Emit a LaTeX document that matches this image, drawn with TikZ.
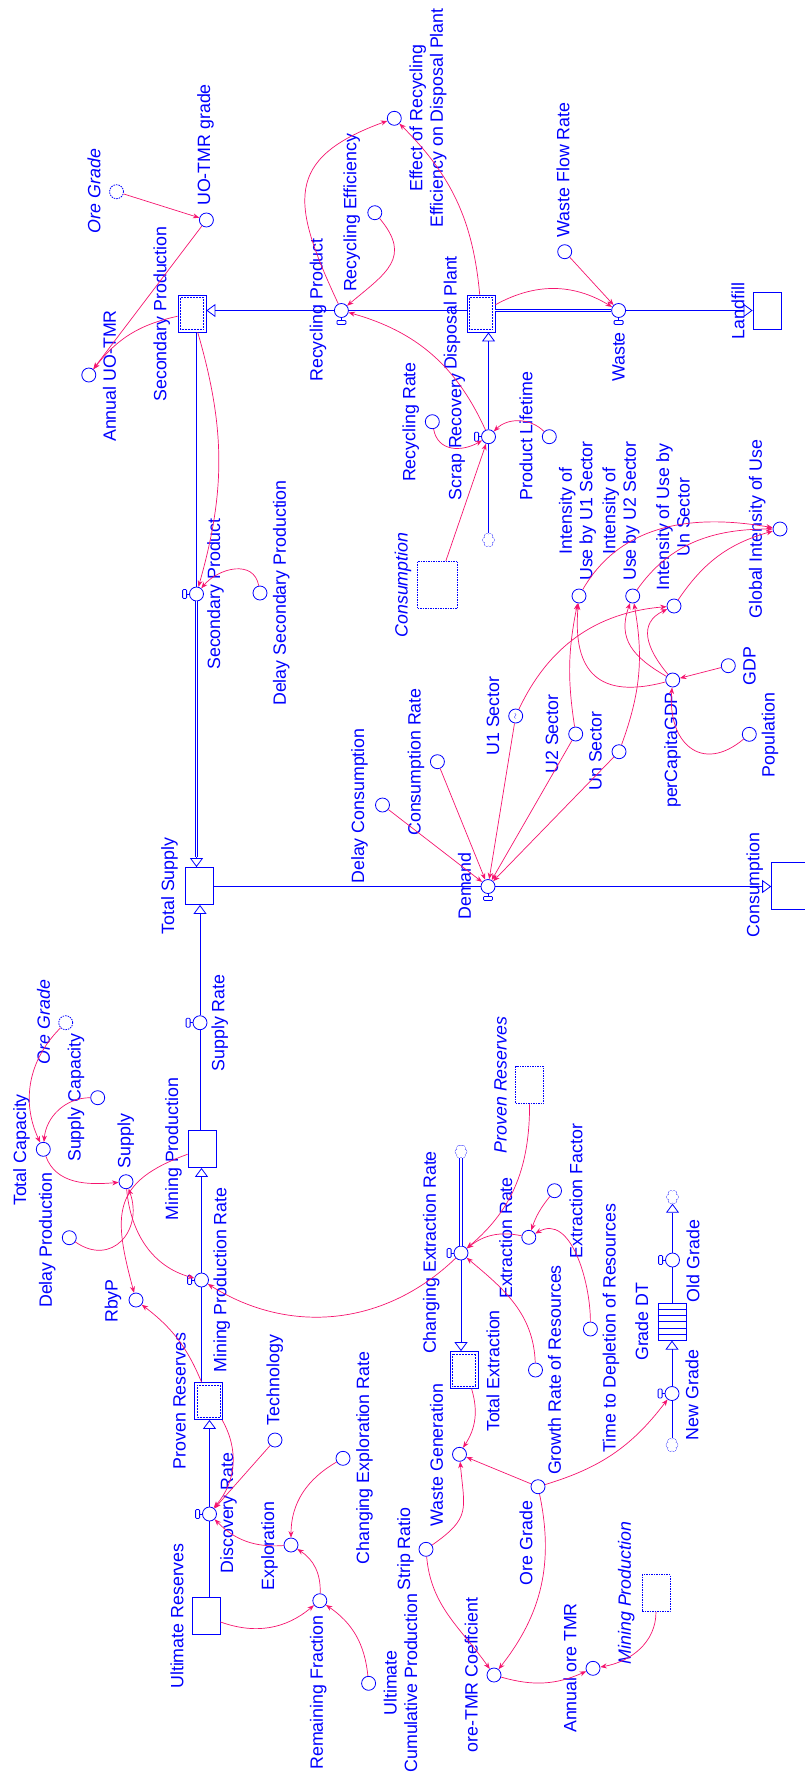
\documentclass[tikz,border=0pt]{standalone}
\usepackage{fontspec}
\setmainfont{Liberation Sans}
\usetikzlibrary{arrows.meta,calc}

\definecolor{vblue}{RGB}{0,0,255}
\definecolor{vpink}{RGB}{245,20,110}

% valve handles: under the valve (horizontal pipe) or left of it (vertical pipe)
\newcommand{\hhandle}[1]{%
  \draw[pipe] (#1.south) -- ++(0,2.5);
  \draw[pipe, rounded corners=1pt] ([shift={(-4.5,2.5)}]#1.south) rectangle ([shift={(4.5,6.5)}]#1.south);}
\newcommand{\vhandle}[1]{%
  \draw[pipe] (#1.west) -- ++(-2.5,0);
  \draw[pipe, rounded corners=1pt] ([shift={(-2.5,-4.5)}]#1.west) rectangle ([shift={(-6.5,4.5)}]#1.west);}

\begin{document}
\begin{tikzpicture}[x=1pt, y=-1pt, >={Stealth[length=6.5pt,width=5pt]},
  every node/.style={text=vblue},
  lbl/.style={rotate=90, inner sep=0pt, align=center, font=\fontsize{17.8}{20.5}\selectfont},
  glbl/.style={lbl, font=\fontsize{17.8}{20.5}\selectfont\itshape},
  aux/.style={circle, draw=vblue, fill=white, line width=0.8pt, minimum size=14pt, inner sep=0pt},
  ghost/.style={aux, dash pattern=on 1.5pt off 1pt},
  stock/.style={rectangle, draw=vblue, fill=white, line width=0.8pt, minimum width=28pt, minimum height=37pt, inner sep=0pt},
  dstock/.style={stock, path picture={\draw[vblue, densely dotted, line width=0.5pt]
      ([shift={(2.5pt,-2.5pt)}]path picture bounding box.north west) rectangle
      ([shift={(-2.5pt,2.5pt)}]path picture bounding box.south east);}},
  gstock/.style={stock, dash pattern=on 1.5pt off 1pt},
  sink/.style={rectangle, minimum width=11pt, minimum height=13pt, inner sep=0pt},
  pipe/.style={draw=vblue, line width=0.8pt},
  flowto/.style={-{Triangle[open,length=9pt,width=13pt]}},
  link/.style={->, draw=vpink, line width=0.7pt}]
\useasboundingbox (0,0) rectangle (805,1778);

% recycling
\node[dstock] (secProd) at (192,313.5) {};
\node[lbl] (secProdL) at (161.7,314) {Secondary Production};
\node[dstock] (disp) at (481,313.5) {};
\node[lbl] (dispL) at (452,313) {Disposal Plant};
\node[stock] (landfill) at (767,311) {};
\node[lbl] (landfillL) at (738,311) {Landfill};
\node[aux] (recProd) at (341.4,310.5) {};
\node[lbl] (recProdL) at (318,310) {Recycling Product};
\node[aux] (waste) at (618.6,310.5) {};
\node[lbl] (wasteL) at (618.6,357) {Waste};
\node[aux] (wasteRate) at (564.7,251.7) {};
\node[lbl] (wasteRateL) at (563,170) {Waste Flow Rate};
\node[aux] (effRec) at (394.3,118.3) {};
\node[lbl] (effRecL) at (428,118) {Effect of Recycling\\Efficiency on Disposal Plant};
\node[aux] (recEff) at (374.8,212.7) {};
\node[lbl] (recEffL) at (351.7,213) {Recycling Efficiency};
\node[ghost] (oreG1) at (116.5,191.7) {};
\node[glbl] (oreG1L) at (94,191) {Ore Grade};
\node[aux] (uoGrade) at (206.4,220) {};
\node[lbl] (uoGradeL) at (205.4,145) {UO-TMR grade};
\node[aux] (annUO) at (88.8,375) {};
\node[lbl] (annUOL) at (109.4,376) {Annual UO-TMR};
\node[aux] (scrap) at (488.5,436.7) {};
\node[lbl] (scrapL) at (457,437) {Scrap Recovery};
\node[sink] (cloudScrap) at (488.5,540) {};
\node[aux] (recRate) at (432.3,421.7) {};
\node[lbl] (recRateL) at (410.7,422) {Recycling Rate};
\node[aux] (lifetime) at (549.3,436.7) {};
\node[lbl] (lifetimeL) at (526,436) {Product Lifetime};
\node[gstock, minimum width=40pt, minimum height=47pt] (consG) at (437.7,584.7) {};
\node[glbl] (consGL) at (403,585) {Consumption};
\node[aux] (secProdRate) at (196.5,594) {};
\node[lbl] (secProdRateL) at (215.6,594) {Secondary Product};
\node[aux] (delaySec) at (260,593) {};
\node[lbl] (delaySecL) at (281.3,593) {Delay Secondary Production};

% demand
\node[stock] (totSup) at (199,886) {};
\node[lbl] (totSupL) at (169.4,886) {Total Supply};
\node[aux] (demand) at (488,886.5) {};
\node[lbl] (demandL) at (464.6,886) {Demand};
\node[stock, minimum width=40pt, minimum height=47pt] (cons) at (791.6,885.5) {};
\node[lbl] (consL) at (754.7,885) {Consumption};
\node[aux] (delayCons) at (382.5,805) {};
\node[lbl] (delayConsL) at (359.4,806) {Delay Consumption};
\node[aux] (consRate) at (437.4,761.7) {};
\node[lbl] (consRateL) at (415.9,762) {Consumption Rate};
\node[aux, rotate=90, font=\scriptsize] (u1) at (515.7,716) {$\sim$};
\node[lbl] (u1L) at (492.9,716) {U1 Sector};
\node[aux] (u2) at (575.7,734) {};
\node[lbl] (u2L) at (552,734) {U2 Sector};
\node[aux] (un) at (619,751.7) {};
\node[lbl] (unL) at (595.5,751) {Un Sector};
\node[aux] (pcGDP) at (672.7,680) {};
\node[lbl] (pcGDPL) at (672.6,750) {perCapitaGDP};
\node[aux] (gdp) at (728.3,665.7) {};
\node[lbl] (gdpL) at (749.6,666) {GDP};
\node[aux] (pop) at (749.3,734.3) {};
\node[lbl] (popL) at (770,735) {Population};
\node[aux] (iu1) at (579,596) {};
\node[lbl] (iu1L) at (577.5,511) {Intensity of\\Use by U1 Sector};
\node[aux] (iu2) at (632.7,596) {};
\node[lbl] (iu2L) at (621,511) {Intensity of\\Use by U2 Sector};
\node[aux] (iun) at (674,606) {};
\node[lbl] (iunL) at (673,517) {Intensity of Use by\\Un Sector};
\node[aux] (giu) at (780,529) {};
\node[lbl] (giuL) at (757.3,529) {Global Intensity of Use};

% mining
\node[ghost] (oreG2) at (65.7,1022.7) {};
\node[glbl] (oreG2L) at (43.6,1022) {Ore Grade};
\node[aux] (totCap) at (43.3,1149.3) {};
\node[lbl] (totCapL) at (21.6,1150) {Total Capacity};
\node[aux] (supCap) at (97.7,1097.7) {};
\node[lbl] (supCapL) at (76,1097.5) {Supply Capacity};
\node[aux] (supply) at (126,1181.7) {};
\node[lbl] (supplyL) at (125.8,1141) {Supply};
\node[aux] (delayProd) at (69.3,1237.7) {};
\node[lbl] (delayProdL) at (47.2,1240) {Delay Production};
\node[aux] (rbyp) at (136,1300) {};
\node[lbl] (rbypL) at (113,1301) {RbyP};
\node[stock] (minProd) at (202,1149) {};
\node[lbl] (minProdL) at (173.5,1149) {Mining Production};
\node[aux] (supRate) at (200,1022.7) {};
\node[lbl] (supRateL) at (219.7,1023) {Supply Rate};
\node[aux] (minRate) at (201.5,1280) {};
\node[lbl] (minRateL) at (221.8,1280) {Mining Production Rate};
\node[dstock] (provRes) at (208.7,1401) {};
\node[lbl] (provResL) at (179.7,1401) {Proven Reserves};
\node[aux] (discRate) at (209.5,1514) {};
\node[lbl] (discRateL) at (228.5,1513) {Discovery Rate};
\node[stock] (ultRes) at (206,1616) {};
\node[lbl] (ultResL) at (177,1616) {Ultimate Reserves};
\node[aux] (tech) at (275,1440) {};
\node[lbl] (techL) at (274.7,1380) {Technology};
\node[aux] (explo) at (291,1545) {};
\node[lbl] (exploL) at (269.5,1546) {Exploration};
\node[aux] (chExp) at (343,1458.3) {};
\node[lbl] (chExpL) at (364.5,1458) {Changing Exploration Rate};
\node[aux] (remFrac) at (319.8,1600.7) {};
\node[lbl] (remFracL) at (318.3,1692.5) {Remaining Fraction};
\node[aux] (ultCum) at (368.6,1683.3) {};
\node[lbl] (ultCumL) at (400.4,1683) {Ultimate\\Cumulative Production};

% extraction and grade
\node[sink] (cloudExt) at (461,1151.7) {};
\node[aux] (chExt) at (461,1253) {};
\node[lbl] (chExtL) at (431.3,1252.5) {Changing Extraction Rate};
\node[dstock] (totExt) at (464,1370) {};
\node[lbl] (totExtL) at (493,1371) {Total Extraction};
\node[gstock] (provG) at (529.6,1085) {};
\node[glbl] (provGL) at (500.6,1085) {Proven Reserves};
\node[aux] (extRate) at (528.8,1237.3) {};
\node[lbl] (extRateL) at (505.7,1238) {Extraction Rate};
\node[aux] (extFac) at (554.5,1190.7) {};
\node[lbl] (extFacL) at (576,1191) {Extraction Factor};
\node[aux] (tdep) at (590.4,1329) {};
\node[lbl] (tdepL) at (611,1328) {Time to Depletion of Resources};
\node[aux] (growth) at (535.5,1370) {};
\node[lbl] (growthL) at (554.5,1370) {Growth Rate of Resources};
\node[stock] (gradeDT) at (672,1321.7) {};
\node[lbl] (gradeDTL) at (641.8,1321.7) {Grade DT};
\node[aux] (oldGrade) at (672.5,1260) {};
\node[lbl] (oldGradeL) at (693,1261) {Old Grade};
\node[sink] (cloudOld) at (672.5,1197) {};
\node[aux] (newGrade) at (672,1393.5) {};
\node[lbl] (newGradeL) at (692,1395) {New Grade};
\node[sink] (cloudNew) at (672,1445) {};
\node[aux] (wasteGen) at (459.5,1454.3) {};
\node[lbl] (wasteGenL) at (436.4,1455) {Waste Generation};
\node[aux] (strip) at (426,1549.3) {};
\node[lbl] (stripL) at (405.6,1549) {Strip Ratio};
\node[aux] (oreGrade) at (538,1486.7) {};
\node[lbl] (oreGradeL) at (526,1543) {Ore Grade};
\node[aux] (oreCoef) at (494,1675) {};
\node[lbl] (oreCoefL) at (471.3,1675) {ore-TMR Coeffcient};
\node[aux] (annOre) at (593,1668.3) {};
\node[lbl] (annOreL) at (570,1668) {Annual ore TMR};
\node[gstock] (minProdG) at (656,1593) {};
\node[glbl] (minProdGL) at (626.3,1593) {Mining Production};

\foreach \k in {1,...,5}
  \draw[pipe, line width=0.6pt] ($(gradeDT.north west)!\k/6!(gradeDT.south west)$) -- ($(gradeDT.north east)!\k/6!(gradeDT.south east)$);

% clouds: ring of puffs, inner strokes covered by a white fill
\foreach \c in {cloudScrap,cloudExt,cloudOld,cloudNew} {
  \foreach \a in {0,60,...,300}
    \draw[vblue, line width=0.6pt] ($(\c)+(\a:3.2pt and 4.2pt)$) circle[radius=2.6pt];
  \foreach \a in {0,60,...,300}
    \fill[white] ($(\c)+(\a:3.2pt and 4.2pt)$) circle[radius=2.6pt];
  \fill[white] (\c) circle[radius=3.5pt];
}

% pipes
\draw[pipe] (disp.west |- recProd) -- (recProd.east);
\draw[pipe, flowto] (recProd.west) -- (secProd.east |- recProd);
\draw[pipe, double, double distance=1.5pt] (disp.east |- waste) -- (waste.west);
\draw[pipe, flowto] (waste.east) -- (landfill.west |- waste);
\draw[pipe] (cloudScrap.north) -- (scrap.south);
\draw[pipe, flowto] (scrap.north) -- (disp.south -| scrap);
\draw[pipe] (secProd.south -| secProdRate) -- (secProdRate.north);
\draw[pipe, flowto] (secProdRate.south) -- (totSup.north -| secProdRate);
\draw[pipe, double, double distance=1.8pt] (secProdRate.south) -- ($(totSup.north -| secProdRate)+(0,-10)$);
\draw[pipe] (totSup.east |- demand) -- (demand.west);
\draw[pipe, flowto] (demand.east) -- (cons.west |- demand);
\draw[pipe] (minProd.north -| supRate) -- (supRate.south);
\draw[pipe, flowto] (supRate.north) -- (totSup.south -| supRate);
\draw[pipe] (provRes.north -| minRate) -- (minRate.south);
\draw[pipe, flowto] (minRate.north) -- (minProd.south -| minRate);
\draw[pipe] (ultRes.north -| discRate) -- (discRate.south);
\draw[pipe, flowto] (discRate.north) -- (provRes.south -| discRate);
\draw[pipe, double, double distance=1.5pt] (cloudExt.south) -- (chExt.north);
\draw[pipe, flowto] (chExt.south) -- (totExt.north -| chExt);
\draw[pipe] (cloudNew.north) -- (newGrade.south);
\draw[pipe, flowto] (newGrade.north) -- (gradeDT.south -| newGrade);
\draw[pipe] (gradeDT.north -| oldGrade) -- (oldGrade.south);
\draw[pipe, flowto] (oldGrade.north) -- (cloudOld.south);

\foreach \v in {recProd,waste,demand} \hhandle{\v};
\foreach \v in {scrap,secProdRate,supRate,minRate,discRate,chExt,oldGrade,newGrade} \vhandle{\v};

% links
\draw[link] (oreG1) -- (uoGrade);
\draw[link] (uoGrade) -- (annUO);
\draw[link] (secProd) to[bend right=20] (annUO);
\draw[link] (recProd) to[out=115,in=200,looseness=1.5] (effRec);
\draw[link] (disp) to[bend right=20] (effRec);
\draw[link] (recEff) to[out=-50,in=40,looseness=1.4] (recProd);
\draw[link] (scrap) to[bend right=25] (recProd);
\draw[link] (recRate) to[out=-80,in=210,looseness=1.2] (scrap);
\draw[link] (lifetime) to[bend right=45] (scrap);
\draw[link] (consG) -- (scrap);
\draw[link] (disp) to[bend left=30] (waste);
\draw[link] (wasteRate) -- (waste);
\draw[link] (secProd) to[bend left=16] (secProdRate);
\draw[link] (delaySec) to[out=100,in=50,looseness=1.2] (secProdRate);

\foreach \s in {delayCons,consRate,u1,u2,un} \draw[link] (\s) -- (demand);
\draw[link] (u1) to[bend left=30] (iun);
\draw[link] (u2) to[bend left=10] (iu1);
\draw[link] (pcGDP) to[out=195,in=265,looseness=1.5] (iu1);
\draw[link] (un) to[bend right=15] (iu2);
\draw[link] (pcGDP) to[out=150,in=250,looseness=1.2] (iu2);
\draw[link] (pcGDP) to[out=130,in=205,looseness=1.3] (iun);
\draw[link] (iu1) to[out=60,in=170] (giu);
\draw[link] (iu2) to[out=55,in=180] (giu);
\draw[link] (iun) to[bend left=20] (giu);
\draw[link] (gdp) -- (pcGDP);
\draw[link] (pop) to[out=220,in=265,looseness=1.6] (pcGDP);

\draw[link] (oreG2) to[bend right=35] (totCap);
\draw[link] (supCap) to[out=180,in=85] (totCap);
\draw[link] (totCap) to[out=-70,in=185] (supply);
\draw[link] (delayProd) to[out=-35,in=-70,looseness=1.5] (supply);
\draw[link] (supply) to[out=-85,in=165] (minRate);
\draw[link] (minProd) to[out=200,in=105,looseness=1.4] (rbyp);
\draw[link] (provRes) to[bend right=15] (rbyp);
\draw[link] (chExt) to[bend left=38] (minRate);
\draw[link] (provG) to[out=-90,in=40] (chExt);
\draw[link] (extRate) to[bend right=25] (chExt);
\draw[link] (extFac) to[bend right=10] (extRate);
\draw[link] (tdep) to[out=90,in=30] (extRate);
\draw[link] (growth) to[out=92,in=-40] (chExt);
\draw[link] (oreGrade) to[bend right=18] (newGrade);
\draw[link] (totExt) to[bend left=25] (wasteGen);
\draw[link] (strip) to[out=35,in=-85,looseness=1.4] (wasteGen);
\draw[link] (oreGrade) -- (wasteGen);
\draw[link] (strip) to[out=-85,in=125] (oreCoef);
\draw[link] (oreGrade) to[bend left=25] (oreCoef);
\draw[link] (oreCoef) to[bend right=20] (annOre);
\draw[link] (minProdG) to[out=-90,in=10] (annOre);
\draw[link] (provRes) to[bend left=35] (discRate);
\draw[link] (tech) -- (discRate);
\draw[link] (explo) to[bend left=25] (discRate);
\draw[link] (chExp) to[out=210,in=90] (explo);
\draw[link] (remFrac) to[bend right=30] (explo);
\draw[link] (ultRes) to[bend right=30] (remFrac);
\draw[link] (ultCum) to[bend right=25] (remFrac);
\end{tikzpicture}
\end{document}
